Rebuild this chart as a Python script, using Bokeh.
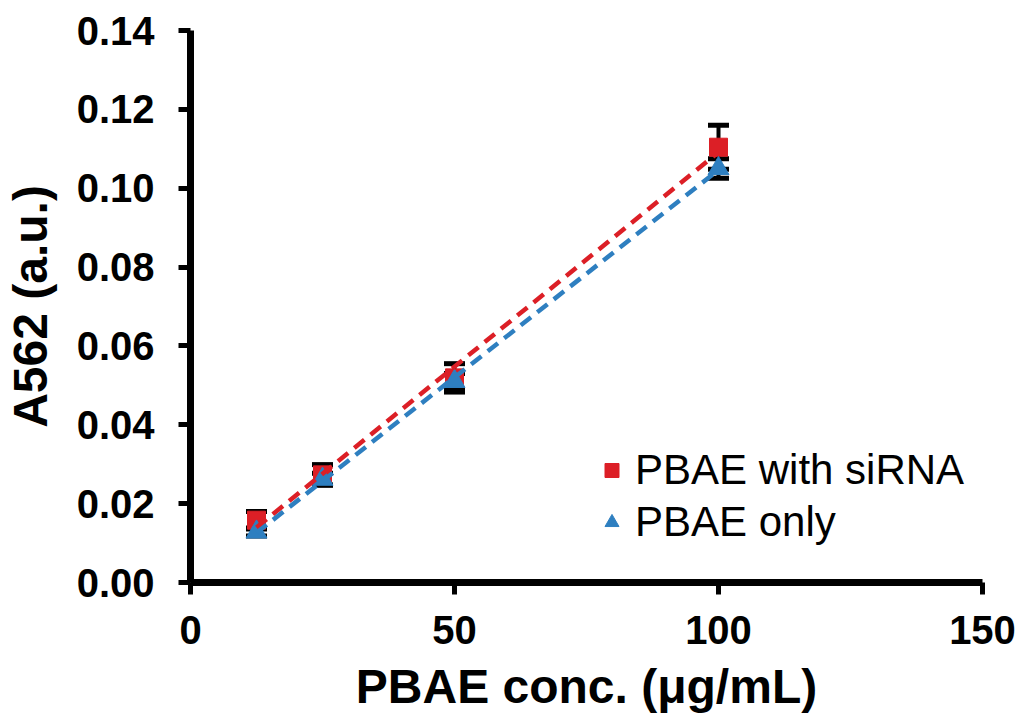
import numpy as np
from bokeh.plotting import figure
from bokeh.models import (ColumnDataSource, Whisker, Legend, LegendItem, FixedTicker,
                          PrintfTickFormatter, Range1d)
from bokeh.embed import file_html
from bokeh.resources import INLINE

conc = [12.5, 25, 50, 100]
siRNA_mean = [0.0158, 0.0273, 0.0519, 0.1104]
siRNA_err = [0.0022, 0.0026, 0.0036, 0.0056]
only_mean = [0.0128, 0.0262, 0.0510, 0.1050]
only_err = [0.0010, 0.0015, 0.0020, 0.0025]
x_ticks = [0, 50, 100, 150]
y_ticks = [0.00, 0.02, 0.04, 0.06, 0.08, 0.10, 0.12, 0.14]

RED = "#dc1f26"
BLUE = "#2e7fc0"
FONT = "Liberation Sans"

W, H = 1016, 715
p = figure(width=W, height=H, output_backend="svg", toolbar_location=None,
           x_range=Range1d(0, 150), y_range=Range1d(0, 0.14),
           min_border_left=189, min_border_right=W - 982, min_border_top=30,
           min_border_bottom=H - 583)
p.outline_line_color = None
p.grid.grid_line_color = None
p.background_fill_color = "white"

for ax in (p.xaxis[0], p.yaxis[0]):
    ax.axis_line_width = 7
    ax.axis_line_color = "black"
    ax.major_tick_line_width = 5
    ax.major_tick_line_color = "black"
    ax.major_tick_in = 0
    ax.major_tick_out = 12
    ax.minor_tick_line_color = None
    ax.major_label_text_font = FONT
    ax.major_label_text_font_style = "bold"
    ax.major_label_text_font_size = "40px"
    ax.major_label_text_color = "black"
    ax.axis_label_text_font = FONT
    ax.axis_label_text_font_style = "bold"
    ax.axis_label_text_font_size = "48px"
    ax.axis_label_text_color = "black"

p.xaxis.ticker = FixedTicker(ticks=x_ticks)
p.yaxis.ticker = FixedTicker(ticks=y_ticks)
p.yaxis.formatter = PrintfTickFormatter(format="%.2f")
p.xaxis.major_label_standoff = 21
p.yaxis.major_label_standoff = 24
p.xaxis.axis_label = "PBAE conc. (μg/mL)"
p.yaxis.axis_label = "A562 (a.u.)"
p.xaxis.axis_label_standoff = 13
p.yaxis.axis_label_standoff = 17

src_r = ColumnDataSource(dict(x=conc, y=siRNA_mean,
                              lo=[m - e for m, e in zip(siRNA_mean, siRNA_err)],
                              hi=[m + e for m, e in zip(siRNA_mean, siRNA_err)]))
src_b = ColumnDataSource(dict(x=conc, y=only_mean,
                              lo=[m - e for m, e in zip(only_mean, only_err)],
                              hi=[m + e for m, e in zip(only_mean, only_err)]))

for s in (src_r, src_b):
    w = Whisker(source=s, base="x", lower="lo", upper="hi", line_color="black", line_width=4)
    for head in (w.upper_head, w.lower_head):
        head.size = 21
        head.line_width = 5
        head.line_color = "black"
    p.add_layout(w)

r_sq = p.scatter("x", "y", source=src_r, marker="square", size=18, fill_color=RED, line_color=RED)
r_tr = p.scatter("x", "y", source=src_b, marker="triangle", size=21, fill_color=BLUE, line_color=BLUE)

# linear trendlines (least-squares fit of the data)
xs = np.array([min(conc), max(conc)])
kr = np.polyfit(conc, siRNA_mean, 1)
kb = np.polyfit(conc, only_mean, 1)
p.line(xs, np.polyval(kr, xs), line_color=RED, line_width=4.5, line_dash="13 8")
p.line(xs, np.polyval(kb, xs), line_color=BLUE, line_width=4.5, line_dash="13 8")

legend = Legend(items=[LegendItem(label="PBAE with siRNA", renderers=[r_sq]),
                       LegendItem(label="PBAE only", renderers=[r_tr])],
                location=(404, 36))
legend.background_fill_alpha = 0
legend.border_line_color = None
legend.padding = 0
legend.margin = 0
legend.spacing = 4
legend.glyph_width = 35
legend.glyph_height = 44
legend.label_height = 44
legend.label_standoff = 6
legend.label_text_font = FONT
legend.label_text_font_size = "42px"
legend.label_text_color = "black"
p.add_layout(legend, "center")

open("out.html", "w").write(file_html(p, INLINE))
